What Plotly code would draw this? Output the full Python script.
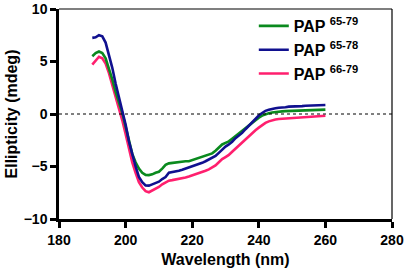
import plotly.graph_objects as go

wavelength = list(range(190, 261))

pap_65_79 = [5.5, 5.8, 5.95, 5.8, 5.3, 4.4, 3.3, 2.1, 1.1, 0.1,
             -1.2, -2.6, -3.8, -4.6, -5.2, -5.6, -5.8, -5.82, -5.75, -5.6,
             -5.5, -5.2, -4.85, -4.7, -4.65, -4.6, -4.62, -4.55, -4.5, -4.5,
             -4.4, -4.3, -4.2, -4.1, -4.0, -3.9, -3.75, -3.5, -3.2, -2.9,
             -2.75, -2.6, -2.35, -2.1, -1.85, -1.6, -1.35, -1.05, -0.8, -0.55,
             -0.35, -0.15, 0.0, 0.08, 0.15, 0.2, 0.22, 0.25, 0.27, 0.28,
             0.3, 0.31, 0.33, 0.34, 0.35, 0.37, 0.38, 0.39, 0.4, 0.41, 0.42]

pap_65_78 = [7.25, 7.3, 7.5, 7.4, 6.8, 5.6, 4.4, 2.9, 1.6, 0.4,
             -1.0, -2.6, -3.9, -5.0, -6.0, -6.5, -6.8, -6.82, -6.7, -6.6,
             -6.45, -6.2, -6.0, -5.6, -5.55, -5.45, -5.4, -5.3, -5.2, -5.1,
             -5.0, -4.9, -4.75, -4.65, -4.5, -4.35, -4.2, -4.0, -3.7, -3.35,
             -3.1, -2.9, -2.65, -2.3, -2.05, -1.8, -1.45, -1.1, -0.75, -0.45,
             -0.15, 0.1, 0.3, 0.4, 0.5, 0.55, 0.6, 0.6, 0.65, 0.7,
             0.7, 0.72, 0.72, 0.75, 0.78, 0.8, 0.8, 0.82, 0.85, 0.85, 0.86]

pap_66_79 = [4.7, 5.1, 5.45, 5.3, 4.8, 3.9, 2.8, 1.6, 0.5, -0.6,
             -1.9, -3.3, -4.6, -5.6, -6.5, -7.0, -7.35, -7.45, -7.3, -7.1,
             -6.95, -6.7, -6.5, -6.35, -6.3, -6.25, -6.2, -6.1, -6.05, -5.95,
             -5.85, -5.75, -5.6, -5.5, -5.4, -5.27, -5.1, -4.9, -4.6, -4.3,
             -4.1, -3.9, -3.6, -3.3, -3.0, -2.75, -2.45, -2.1, -1.8, -1.55,
             -1.3, -1.05, -0.85, -0.7, -0.6, -0.52, -0.48, -0.46, -0.45, -0.43,
             -0.42, -0.4, -0.38, -0.35, -0.33, -0.3, -0.27, -0.24, -0.2, -0.18, -0.16]

series_names = ["PAP <sup>65-79</sup>", "PAP <sup>65-78</sup>", "PAP <sup>66-79</sup>"]
colors = ["#0a8a1e", "#10108f", "#ff1f6e"]

x_ticks = [180, 200, 220, 240, 260, 280]
y_ticks = [-10, -5, 0, 5, 10]

FONT = "Liberation Sans, Arial, sans-serif"

fig = go.Figure()
data = [pap_65_79, pap_65_78, pap_66_79]
draw_order = [2, 0, 1]
for i in draw_order:
    fig.add_trace(go.Scatter(
        x=wavelength, y=data[i], mode="lines", name=series_names[i],
        line=dict(color=colors[i], width=2.6), legendrank=i + 1,
    ))

fig.add_hline(y=0, line=dict(color="black", width=1, dash="dot"))

fig.update_layout(
    width=408, height=272,
    margin=dict(l=59, r=16, t=9, b=53, autoexpand=False),
    plot_bgcolor="white", paper_bgcolor="white",
    font=dict(family=FONT, color="black"),
    showlegend=True,
    legend=dict(x=0.585, y=1.0, xanchor="left", yanchor="top",
                bgcolor="rgba(0,0,0,0)", tracegroupgap=0,
                font=dict(family=FONT, size=16, weight="bold"),
                itemwidth=30),
    xaxis=dict(range=[180, 280], tickvals=x_ticks, showgrid=False, zeroline=False,
               showline=True, linecolor="black", linewidth=2.5, automargin=False,
               ticks="outside", ticklen=6, tickwidth=2.5, tickcolor="black",
               ticklabeloverflow="allow",
               tickfont=dict(family=FONT, size=14, weight="bold"),
               title=dict(text="Wavelength (nm)", font=dict(family=FONT, size=16, weight="bold"), standoff=8)),
    yaxis=dict(range=[-10, 10], tickvals=y_ticks, showgrid=False, zeroline=False,
               showline=True, linecolor="black", linewidth=2.5, automargin=False,
               ticks="outside", ticklen=6, tickwidth=2.5, tickcolor="black",
               ticklabeloverflow="allow",
               tickfont=dict(family=FONT, size=14, weight="bold"),
               title=dict(text="Ellipticity (mdeg)", font=dict(family=FONT, size=16, weight="bold"), standoff=3)),
)

fig.add_shape(type="line", xref="paper", yref="paper", x0=0, x1=1, y0=1, y1=1,
              line=dict(color="black", width=1.2))
fig.add_shape(type="line", xref="paper", yref="paper", x0=1, x1=1, y0=0, y1=1,
              line=dict(color="black", width=1.2))

fig.write_html("out.html", config={"displayModeBar": False},
               post_script="document.body.style.margin='0';")
